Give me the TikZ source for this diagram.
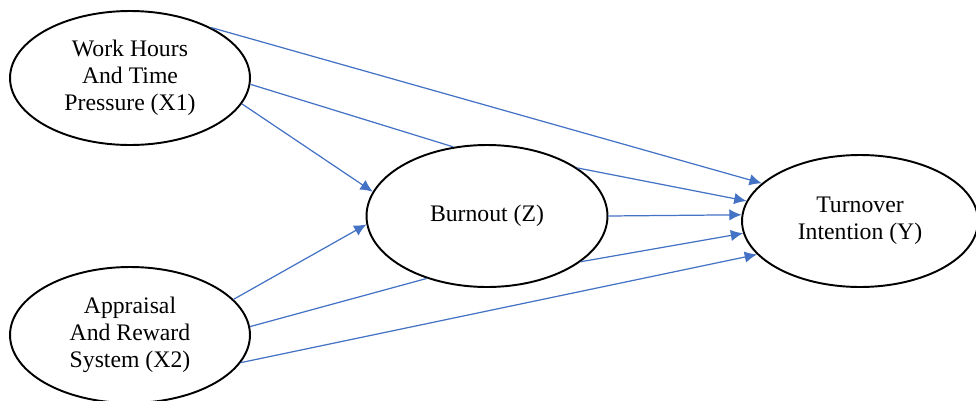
\documentclass[tikz,border=0pt]{standalone}
\usepackage{fontspec}
\setmainfont{Liberation Serif}
\usepackage{xcolor}
\usetikzlibrary{arrows.meta,shapes.geometric}
\definecolor{LinkColor}{RGB}{68,114,196}

\begin{document}
\begin{tikzpicture}[x=0.02cm, y=0.02cm, >={Latex[length=7pt,width=6.5pt]}, font=\fontsize{13.5}{15.5}\selectfont,
    latent/.style={draw, ellipse, line width=1.1pt, fill=white, inner sep=0pt, align=center},
    link/.style={draw=LinkColor, line width=0.7pt}]
      \useasboundingbox (0,0) rectangle (976,400);
      \node[latent, minimum width=4.8cm, minimum height=2.68cm] (x1) at (130,322) {Work Hours\\And Time\\Pressure (X1)};
      \node[latent, minimum width=4.8cm, minimum height=2.72cm] (x2) at (130,65) {Appraisal\\And Reward\\System (X2)};
      \node[latent, minimum width=4.82cm, minimum height=2.84cm] (z) at (487,184) {Burnout (Z)};
      \node[latent, minimum width=4.72cm, minimum height=2.64cm] (y) at (860,179) {Turnover\\Intention (Y)};
      % direct paths to turnover
      \draw[link, ->] (x1.32) -- (y.159);
      \draw[link, ->] (x2.-14) -- (y.198);
      % paths into burnout
      \draw[link, ->] (x1.-13) -- (z.168);
      \draw[link, ->] (x2.19) -- (z.184);
      \draw[link, ->] (z.0) -- (y.177.6);
      % mediated paths
      \draw[link] (x1.-3) -- (z.116);
      \draw[link, ->] (z.28) -- (y.170);
      \draw[link] (x2.4) -- (z.226);
      \draw[link, ->] (z.-26) -- (y.186);
    \end{tikzpicture}
\end{document}
